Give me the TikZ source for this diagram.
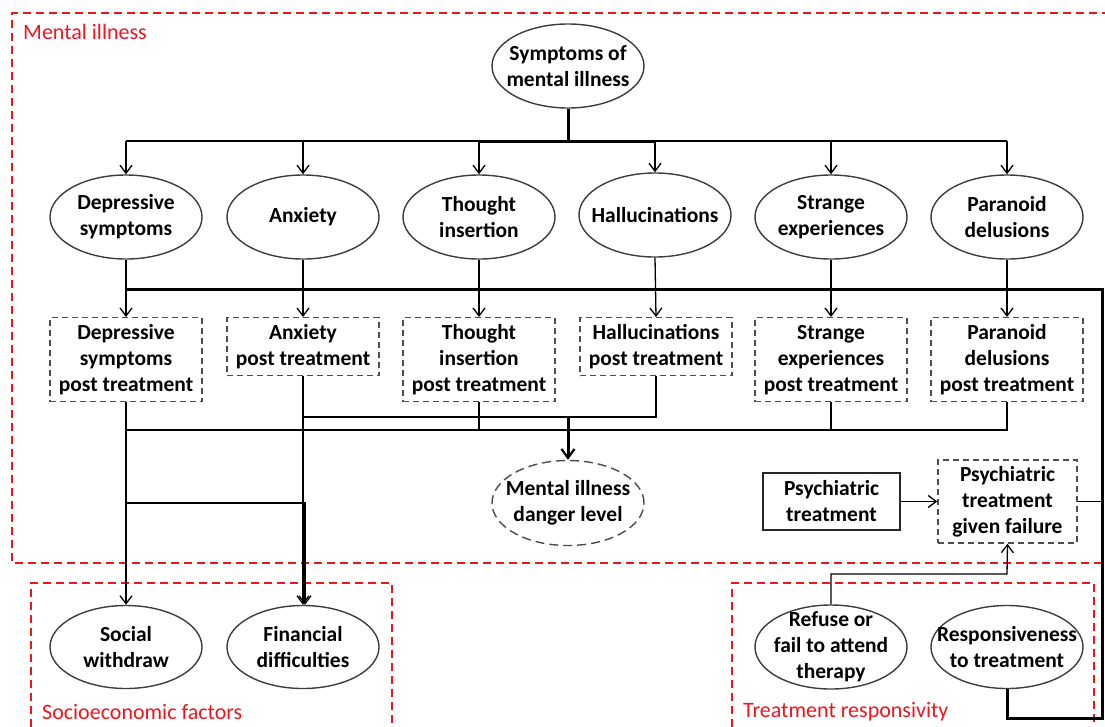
\documentclass[tikz,border=0pt]{standalone}
\usepackage{fontspec}
\setmainfont{Carlito}
\usetikzlibrary{shapes.geometric,arrows.meta,calc}
\definecolor{redbox}{RGB}{240,20,30}
\definecolor{edge}{RGB}{40,40,40}
\begin{document}
\begin{tikzpicture}[x=1pt,y=-1pt,
  txt/.style={font=\bfseries\fontsize{21.5}{26}\selectfont, align=center, text=black},
  ell/.style={ellipse, draw=edge!90, line width=1.4pt, minimum width=152pt, minimum height=84pt, inner sep=0pt},
  dell/.style={ell, draw=black!70, dash pattern=on 9pt off 5pt},
  pbox/.style={txt, rectangle, draw=black!70, line width=1.4pt, dash pattern=on 6pt off 4pt, minimum width=152pt, inner sep=0pt, anchor=north},
  sbox/.style={txt, rectangle, draw=edge, line width=1.4pt, minimum width=137pt, minimum height=57pt, inner sep=0pt},
  gbox/.style={txt, rectangle, draw=black!70, line width=1.4pt, dash pattern=on 6pt off 4pt, minimum width=139pt, minimum height=83pt, inner sep=0pt},
  ln/.style={draw=black, line width=1.3pt},
  tk/.style={draw=black, line width=3pt},
  arr/.style={ln, -{Straight Barb[length=8pt,width=12pt,line width=1.3pt]}},
  tkarr/.style={tk, -{Straight Barb[length=9pt,width=13pt,line width=2.2pt]}},
  redframe/.style={draw=redbox, line width=1.2pt, dash pattern=on 8pt off 5pt},
  redlbl/.style={text=redbox, font=\fontsize{22}{26}\selectfont, anchor=west, inner sep=0pt},
  t/.style={label={[txt, inner sep=0pt]center:#1}}
]
\useasboundingbox (0,0) rectangle (1105,726);
\begin{scope}
\clip (0,0) rectangle (1105,726);
% group frames
\draw[redframe] (1110,13) -- (12,13) -- (12,563) -- (1102,563);
\draw[redframe] (31,740) -- (31,583) -- (392,583) -- (392,740);
\draw[redframe] (732,740) -- (732,583) -- (1094,583) -- (1094,740);
\end{scope}
\node[redlbl] (lmi) at (23,32) {Mental illness};
\node[redlbl] (lse) at (42,712) {Socioeconomic factors};
\node[redlbl] (ltr) at (743,712) {Treatment responsivity};

% nodes
\node[ell, t={Symptoms of\\mental illness}] (sym) at (568,66) {};
\node[ell, t={Depressive\\symptoms}] (d1) at (126,217) {};
\node[ell, t={Anxiety}] (a1) at (303,217) {};
\node[ell, t={Thought\\insertion}] (t1) at (479,217) {};
\node[ell, t={Hallucinations}] (h1) at (655,215) {};
\node[ell, t={Strange\\experiences}] (s1) at (831,217) {};
\node[ell, t={Paranoid\\delusions}] (p1) at (1007,217) {};

\node[pbox, minimum height=84pt] (d2) at (126,317) {Depressive\\symptoms\\post treatment};
\node[pbox, minimum height=58pt] (a2) at (303,317) {Anxiety\\post treatment};
\node[pbox, minimum height=84pt] (t2) at (479,317) {Thought\\insertion\\post treatment};
\node[pbox, minimum height=58pt] (h2) at (656,317) {Hallucinations\\post treatment};
\node[pbox, minimum height=84pt] (s2) at (831,317) {Strange\\experiences\\post treatment};
\node[pbox, minimum height=84pt] (p2) at (1007,317) {Paranoid\\delusions\\post treatment};

\node[dell, minimum height=85pt, t={Mental illness\\danger level}] (dng) at (568,503) {};
\node[sbox] (pt) at (831.5,501.5) {Psychiatric\\treatment};
\node[gbox] (gf) at (1007.5,501.5) {Psychiatric\\treatment\\given failure};

\node[ell, minimum height=83pt, t={Social\\withdraw}] (soc) at (126,647) {};
\node[ell, minimum height=83pt, t={Financial\\difficulties}] (fin) at (303,647) {};
\node[ell, minimum height=84pt, t={Refuse or\\fail to attend\\therapy}] (ref) at (831,647) {};
\node[ell, minimum height=83pt, t={Responsiveness\\to treatment}] (rsp) at (1007,647) {};

% coordinates
\coordinate (bus1) at (568,141);
\coordinate (bus2) at (1102,289);
\coordinate (corner) at (1102,718);
\coordinate (bus3) at (568,417);
\coordinate (bus4) at (568,430);
\coordinate (jn) at (126,503);
\coordinate (rf) at (1007,574);

% top fan-out
\draw[tk] (sym.south) -- (bus1);
\draw[ln] (bus1 -| d1) -- (bus1 -| p1);
\draw[tk] (bus1 -| t1) -- (bus1 -| h1);
\foreach \n in {d1,a1,t1,h1,s1,p1}{
  \draw[arr] (bus1 -| \n) -- (\n.north);
}
% symptoms to post treatment
\draw[arr] (d1.south) -- (d2.north);
\draw[arr] (a1.south) -- (a2.north);
\draw[arr] (t1.south) -- (t2.north);
\draw[arr] (h1.south) -- (h2.north);
\draw[arr] (s1.south) -- (s2.north);
\draw[arr] (p1.south) -- (p2.north);

% responsiveness loop
\draw[tk, line join=miter] (rsp.south) |- (corner) -- (bus2) -- (bus2 -| d1);
\draw[ln] (gf.east) -- (gf.east -| bus2);
\draw[arr] (pt.east) -- (gf.west);
\draw[arr] (ref.north) |- (rf) -- (gf.south);

% post treatment to danger level
\draw[ln] (a2.south) |- (bus3 -| h2) -- (h2.south);
\draw[ln] (d2.south) |- (bus4 -| p2) -- (p2.south);
\draw[ln] (t2.south) -- (t2.south |- bus4);
\draw[ln] (s2.south) -- (s2.south |- bus4);
\draw[tkarr] (bus3) -- (dng.north);

% socioeconomic
\draw[arr] (d2.south) -- (soc.north);
\draw[arr] (jn) -| ($(fin.north)+(2,0)$);
\draw[arr] (a2.south) -- (fin.north);
\end{tikzpicture}
\end{document}
